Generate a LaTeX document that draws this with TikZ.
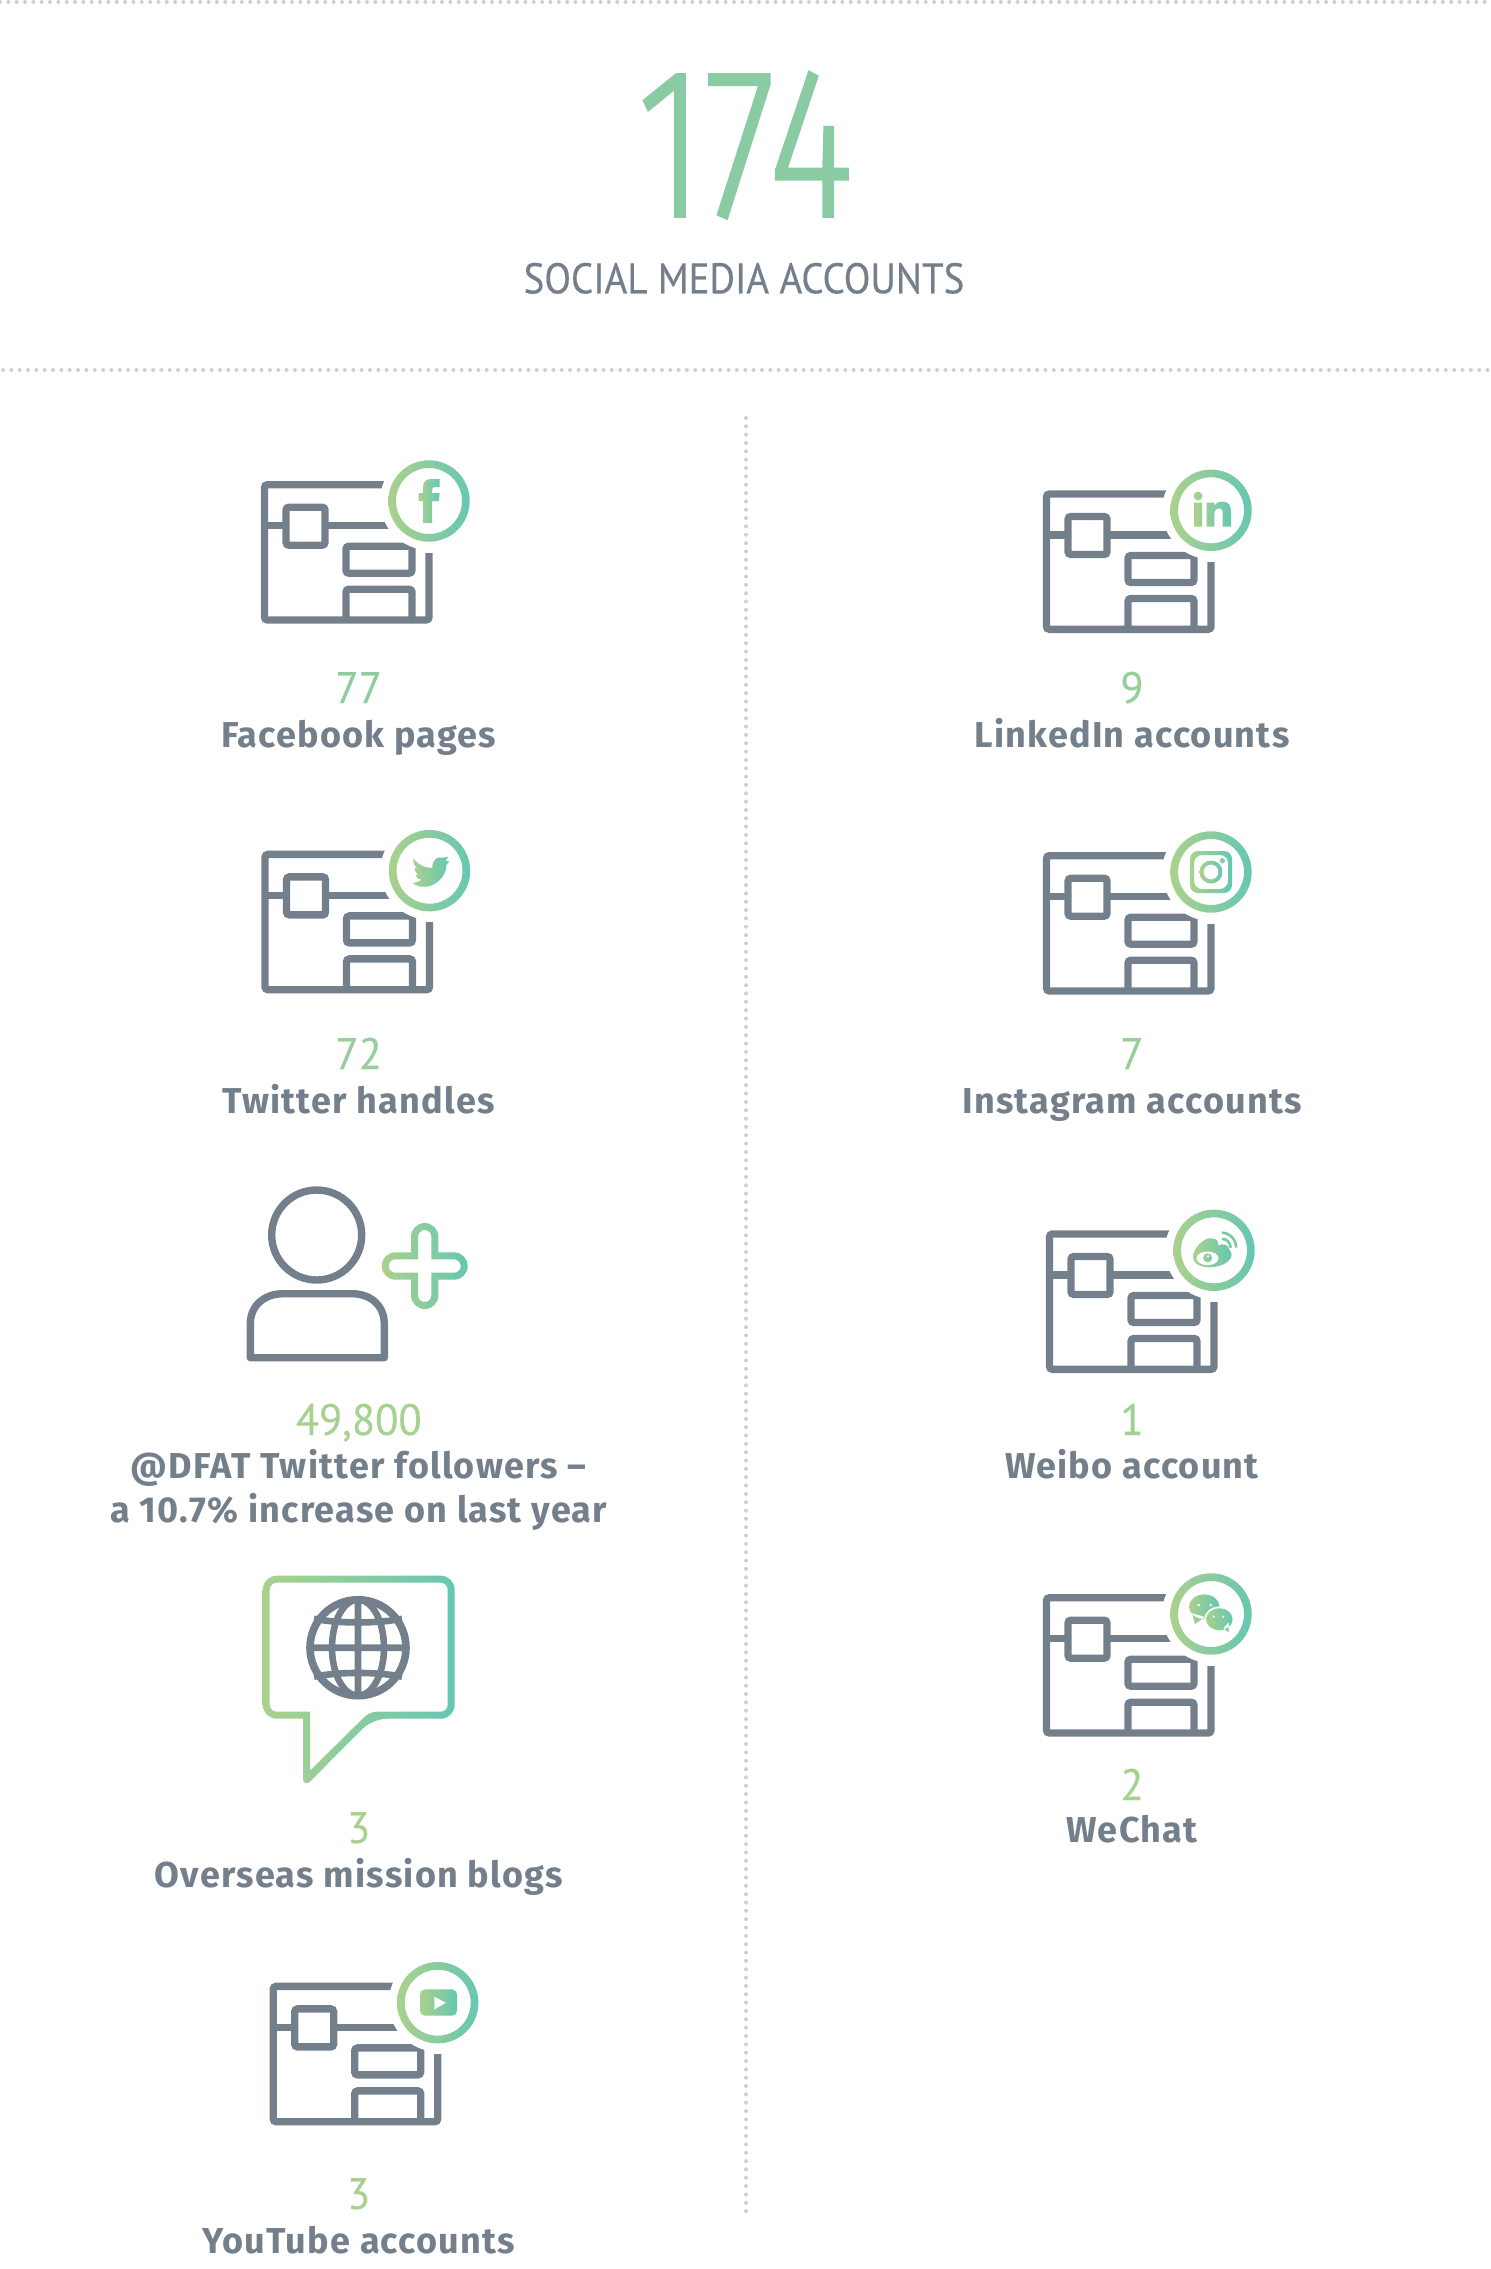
\documentclass[tikz,border=0pt]{standalone}
\usepackage{fontspec}
\newfontfamily\countfont[FakeStretch=0.97,FakeBold=0.2]{PT Sans}
\newfontfamily\headfont[FakeStretch=0.91,FakeBold=0.4]{PT Sans}
\newfontfamily\bigfont[FakeStretch=0.76,FakeBold=1.2]{Fira Sans Light}
\newfontfamily\labelfont[LetterSpace=3.4]{Fira Sans}
\definecolor{slate}{HTML}{747F8C}
\definecolor{dotgrey}{HTML}{CDD0D6}
\definecolor{gradleft}{HTML}{AAD18C}
\definecolor{gradright}{HTML}{66C7B2}
\definecolor{headgreen}{HTML}{8ACBA3}
\definecolor{countA}{HTML}{8FCCA0}
\definecolor{countB}{HTML}{98CE9A}
\definecolor{countC}{HTML}{A6D18F}
\tikzset{
  gridline/.style={draw=slate, line width=3.7pt, rounded corners=1.5pt},
  gradfill/.style={left color=gradleft, right color=gradright, even odd rule},
  dotline/.style={draw=dotgrey, line width=2pt, line cap=round, dash pattern=on 0pt off 4.17pt},
  countnum/.style={anchor=base, font=\countfont\fontsize{22}{26}\selectfont},
  acctlabel/.style={anchor=base, text=slate, font=\labelfont\bfseries\fontsize{18}{22}\selectfont},
  pagegrid/.pic={
    \draw[gridline] (0,0) rectangle (164.5,135.3);
    \draw[gridline] (21.5,22.5) rectangle (60.5,60.5);
    \draw[gridline] (81.5,61.5) rectangle (147.5,88.5);
    \draw[gridline] (81.5,135.3) -- (81.5,104.5) -- (147.5,104.5) -- (147.5,135.3);
    \draw[draw=slate, line width=3.7pt] (0,41) -- (21.5,41) (60.5,41) -- (125,41);
    \fill[white] (164.5,16.3) circle [radius=49];
    \fill[white] (152,16.3) rectangle (172,68);
    \shade[gradfill] (164.5,16.3) circle [radius=40.7] (164.5,16.3) circle [radius=33];
  }
}
\begin{document}
\begin{tikzpicture}[x=0.5pt, y=-0.5pt]
  \useasboundingbox (0,0) rectangle (1490,2269);
  % dotted rules
  \coordinate (ruleAl) at (0,2);
  \coordinate (ruleAr) at (1490,2);
  \coordinate (ruleBl) at (3,370);
  \coordinate (ruleBr) at (1490,370);
  \coordinate (ruleCt) at (746,418);
  \coordinate (ruleCb) at (746,2218);
  \draw[dotline] (ruleAl) -- (ruleAr);
  \draw[dotline] (ruleBl) -- (ruleBr);
  \draw[dotline] (ruleCt) -- (ruleCb);
  % heading
  \node (total) [anchor=base, text=headgreen, inner sep=0pt, font=\bigfont\fontsize{107}{110}\selectfont] at (745,216.7) {174};
  \node (title) [anchor=base, text=slate, inner sep=0pt, font=\headfont\fontsize{21.4}{26}\selectfont] at (744,293.3) {SOCIAL MEDIA ACCOUNTS};

  % left column
  \pic (fbicon) at (264.5,484.7) {pagegrid};
  \begin{scope}[shift={(429,501)}]
    \shade[gradfill] (-6,22) -- (-6,0) -- (-10.3,0) -- (-10.3,-8) -- (-6,-8) -- (-6,-14) .. controls (-6,-20) and (-2,-22) .. (3,-22) -- (10.7,-22) -- (10.7,-14) -- (6,-14) .. controls (4,-14) and (3,-13) .. (3,-11) -- (3,-8) -- (10.7,-8) -- (9.7,0) -- (3,0) -- (3,22) -- cycle;
  \end{scope}
  \node (fbcount) [countnum, text=countA] at (358.7,703) {77};
  \node (fblabel) [acctlabel] at (358.7,747) {Facebook pages};

  \pic (twicon) at (265,854.4) {pagegrid};
  \begin{scope}[shift={(429.5,870.7)}]
    \shade[gradfill] (-16,-12) .. controls (-10,-5) and (-3,-2) .. (3,-3) .. controls (2,-10) and (8,-15) .. (13,-13) -- (19,-14) -- (16,-10) -- (20,-9) -- (17,-6) .. controls (17,6) and (5,17) .. (-6,16) .. controls (-10,16) and (-14,15) .. (-17,12) .. controls (-13,12) and (-10,11) .. (-8,9) .. controls (-11,9) and (-14,7) .. (-14,4) -- (-11,4) .. controls (-14,2) and (-15,-1) .. (-15,-3) -- (-12,-2) .. controls (-15,-5) and (-17,-8) .. (-16,-12) -- cycle;
  \end{scope}
  \node (twcount) [countnum, text=countB] at (358.7,1069) {72};
  \node (twlabel) [acctlabel] at (358.7,1113) {Twitter handles};

  \draw[draw=slate, line width=3.7pt] (316.7,1235) circle [radius=45];
  \draw[draw=slate, line width=3.7pt, line join=round] (250.3,1357.7) -- (250.3,1324) .. controls (250.3,1305) and (265,1293.7) .. (283,1293.7) -- (352,1293.7) .. controls (370,1293.7) and (384.3,1305) .. (384.3,1324) -- (384.3,1357.7) -- cycle;
  \begin{scope}[shift={(424.7,1266)}]
    \shade[gradfill] (-13.7,-29.3) arc[start angle=180,end angle=360,radius=13.7] -- (13.7,-13.7) -- (29.3,-13.7) arc[start angle=270,end angle=450,radius=13.7] -- (13.7,13.7) -- (13.7,29.3) arc[start angle=0,end angle=180,radius=13.7] -- (-13.7,13.7) -- (-29.3,13.7) arc[start angle=90,end angle=270,radius=13.7] -- (-13.7,-13.7) -- cycle
      (-6.7,-29.3) arc[start angle=180,end angle=360,radius=6.7] -- (6.7,-6.7) -- (29.3,-6.7) arc[start angle=270,end angle=450,radius=6.7] -- (6.7,6.7) -- (6.7,29.3) arc[start angle=0,end angle=180,radius=6.7] -- (-6.7,6.7) -- (-29.3,6.7) arc[start angle=90,end angle=270,radius=6.7] -- (-6.7,-6.7) -- cycle;
  \end{scope}
  \node (dfcount) [countnum, text=countC] at (358.7,1435) {49,800};
  \node (dflabel) [acctlabel] at (358.7,1478) {@DFAT Twitter followers –};
  \node (dfnote) [acctlabel] at (358.7,1522) {a 10.7\% increase on last year};

  % speech bubble with globe
  \shade[gradfill] (303,1718.7) {[rounded corners=7pt] -- (262.7,1718.7) -- (262.7,1575.7) -- (454.7,1575.7) -- (454.7,1718.7) -- (372.7,1718.7)} -- (309.5,1782) .. controls (307,1784.5) and (303,1783) .. (303,1779) -- cycle
    (310,1711.7) {[rounded corners=3.5pt] -- (269.7,1711.7) -- (269.7,1582.7) -- (447.7,1582.7) -- (447.7,1711.7) -- (369.7,1711.7)} -- (310,1770.7) -- cycle;
  \begin{scope}[shift={(358,1647.7)}]
    \draw[draw=slate, line width=3.8pt] (0,0) circle [radius=48];
    \draw[draw=slate, line width=3.3pt] (0,-48) -- (0,48) (-48,0) -- (48,0) (0,0) circle [x radius=26, y radius=48]
      (-44,-29) .. controls (-20,-24) and (20,-24) .. (44,-29)
      (-44,29) .. controls (-20,24) and (20,24) .. (44,29);
  \end{scope}
  \node (blcount) [countnum, text=countC] at (358.7,1843) {3};
  \node (bllabel) [acctlabel] at (358.7,1887) {Overseas mission blogs};

  \pic (yticon) at (273.2,1986.4) {pagegrid};
  \begin{scope}[shift={(437.7,2002.7)}]
    \shade[gradfill, rounded corners=2.5pt] (-17.7,-13.3) rectangle (19.3,13);
    \fill[white] (-3.3,-6) -- (8,0) -- (-3.3,6.7) -- cycle;
  \end{scope}
  \node (ytcount) [countnum, text=countC] at (358.7,2209) {3};
  \node (ytlabel) [acctlabel] at (358.7,2253) {YouTube accounts};

  % right column
  \pic (liicon) at (1046.5,494) {pagegrid};
  \begin{scope}[shift={(1211,510.3)}]
    \shade[gradfill] (-17,-7.7) rectangle (-9,16.3) (-13,-14.3) circle [radius=4.4]
      (-4.3,16.3) -- (-4.3,-7.7) -- (3.3,-7.7) -- (3.3,-4.5) .. controls (6,-8.5) and (9,-8.7) .. (12,-8.7) .. controls (18,-8.7) and (20,-4) .. (20,2) -- (20,16.3) -- (11.7,16.3) -- (11.7,3) .. controls (11.7,-1) and (10.5,-2) .. (8,-2) .. controls (5,-2) and (3.3,0) .. (3.3,3) -- (3.3,16.3) -- cycle;
  \end{scope}
  \node (licount) [countnum, text=countB] at (1132,703) {9};
  \node (lilabel) [acctlabel] at (1132,747) {LinkedIn accounts};

  \pic (inicon) at (1046.5,855.7) {pagegrid};
  \begin{scope}[shift={(1211,872)}]
    \shade[gradfill, rounded corners=4pt] (-21,-21) rectangle (21,21) (-17,-17) rectangle (17,17);
    \shade[gradfill] (0,0) circle [radius=11.5] (0,0) circle [radius=7.5];
    \shade[gradfill] (11.3,-11.3) circle [radius=2.7];
  \end{scope}
  \node (incount) [countnum, text=countB] at (1132,1069) {7};
  \node (inlabel) [acctlabel] at (1132,1113) {Instagram accounts};

  \pic (wbicon) at (1049.5,1234) {pagegrid};
  \begin{scope}[shift={(1214,1250.3)}]
    \shade[left color=gradleft, right color=gradright] (-21,7) .. controls (-21,-2) and (-10,-13) .. (-3,-12) .. controls (3,-12) and (5,-9) .. (4,-5) .. controls (9,-7) and (15,-6) .. (15,-1) .. controls (19,2) and (18,8) .. (14,11) .. controls (8,16) and (0,17) .. (-4,17) .. controls (-14,17) and (-21,13) .. (-21,7) -- cycle;
    \fill[white] (-6.5,8) ellipse [x radius=11, y radius=6.8];
    \shade[left color=gradleft, right color=gradright] (-6.5,7.5) circle [radius=4.5];
    \fill[white] (-6,6) circle [radius=1.3];
    \draw[draw=gradright!70!gradleft, line width=1.3pt] (7.7,-17.7) arc[start angle=272,end angle=360,radius=15] (8,-11.5) arc[start angle=272,end angle=360,radius=9];
  \end{scope}
  \node (wbcount) [countnum, text=countC!60!countB] at (1132,1435) {1};
  \node (wblabel) [acctlabel] at (1132,1478) {Weibo account};

  \pic (wcicon) at (1046.5,1597.7) {pagegrid};
  \begin{scope}[shift={(1211,1614)}]
    \shade[left color=gradleft, right color=gradright] (-6.7,-7.3) ellipse [x radius=15.3, y radius=12.3] (-19,-1) -- (-16,10) -- (-6,3) -- cycle;
    \fill[white] (8.3,5.3) ellipse [x radius=15, y radius=12.8];
    \shade[left color=gradleft, right color=gradright] (8.3,5.3) ellipse [x radius=13.3, y radius=11] (12,14) -- (17.5,18) -- (18,8) -- cycle;
    \fill[white] (-12.3,-9) circle [radius=1.4] (-0.3,-9) circle [radius=1.4] (2.8,2.7) circle [radius=1.1] (12.3,2.7) circle [radius=1.1];
  \end{scope}
  \node (wccount) [countnum, text=countC] at (1132,1800) {2};
  \node (wclabel) [acctlabel] at (1132,1842) {WeChat};
\end{tikzpicture}
\end{document}
